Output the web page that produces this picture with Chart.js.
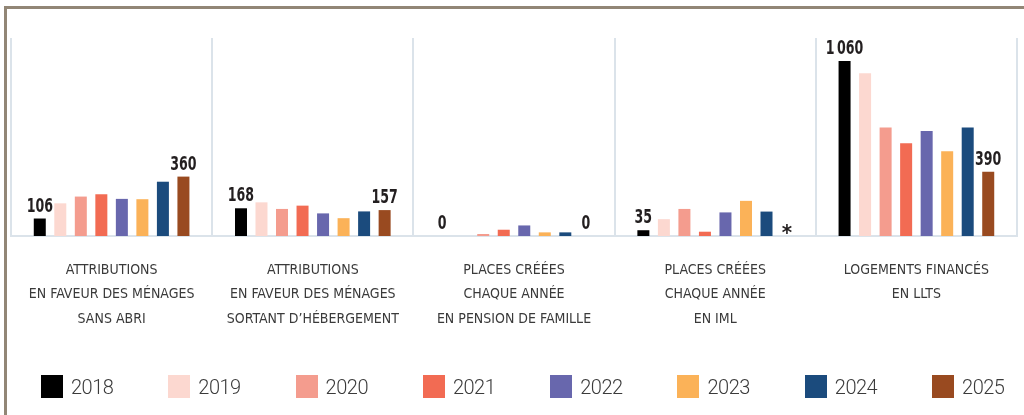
<!DOCTYPE html>
<html lang="fr">
<head>
<meta charset="utf-8">
<title>Logement d'abord</title>
<script src="https://cdn.jsdelivr.net/npm/chart.js@4.4.1/dist/chart.umd.min.js"></script>
<style>
  html, body { margin: 0; padding: 0; background: #fff; }
  #wrap { position: relative; width: 1024px; height: 415px; overflow: hidden; }
  #frame {
    position: absolute; left: 4px; top: 6px; width: 1100px; height: 500px;
    border-top: 3px solid #928676; border-left: 3px solid #928676;
  }
  #chart { position: absolute; left: 0; top: 0; }
  #legend {
    position: absolute; left: 41px; top: 375px; display: flex;
    font-family: Roboto, "Noto Sans", sans-serif; font-weight: 300;
    font-size: 20px; color: #3b3b3b; letter-spacing: -0.5px;
  }
  #legend .item { width: 127.3px; display: flex; align-items: center; height: 23px; }
  #legend .box { width: 22px; height: 23px; margin-right: 8px; }
</style>
</head>
<body>
<div id="wrap">
  <div id="frame"></div>
  <canvas id="chart" width="1024" height="415"></canvas>
  <div id="legend"></div>
</div>
<script>
// categories (one panel each)
const categories = [
    ["ATTRIBUTIONS", "EN FAVEUR DES MÉNAGES", "SANS ABRI"],
    ["ATTRIBUTIONS", "EN FAVEUR DES MÉNAGES", "SORTANT D’HÉBERGEMENT"],
    ["PLACES CRÉÉES", "CHAQUE ANNÉE", "EN PENSION DE FAMILLE"],
    ["PLACES CRÉÉES", "CHAQUE ANNÉE", "EN IML"],
    ["LOGEMENTS FINANCÉS", "EN LLTS"]
];

const years = ["2018", "2019", "2020", "2021", "2022", "2023", "2024", "2025"];

// values per year, one per category (null = not available, shown as *)
const v2018 = [106, 168, 0, 35, 1060];
const v2019 = [198, 204, 0, 102, 987];
const v2020 = [239, 164, 12, 164, 658];
const v2021 = [253, 184, 38, 26, 562];
const v2022 = [225, 137, 64, 143, 636];
const v2023 = [223, 108, 22, 213, 513];
const v2024 = [329, 149, 22, 148, 658];
const v2025 = [360, 157, 0, null, 390];

const yearColors = ["#000000", "#fcd8d0", "#f49c8e", "#f26b53", "#6867ad", "#fbb258", "#1b4b7d", "#994a20"];

const series = [v2018, v2019, v2020, v2021, v2022, v2023, v2024, v2025];

const chartEl = document.getElementById("chart");
const legendEl = document.getElementById("legend");

const condensed = "'Liberation Sans Narrow', 'DejaVu Sans Condensed', sans-serif";

// number format with narrow space for thousands
function fmt(v) {
    if (v === null) return "*";
    return v.toLocaleString("fr-FR").replace(/\s/g, "\u202F");
}

// labels above first and last year of each panel
const endLabels = {
    id: "endLabels",
    afterDatasetsDraw(chart) {
        const ctx = chart.ctx;
        const last = chart.data.datasets.length - 1;
        const zeroY = chart.scales.y.getPixelForValue(0);
        ctx.save();
        ctx.fillStyle = "#231f20";
        ctx.textAlign = "center";
        ctx.textBaseline = "alphabetic";
        [0, last].forEach(di => {
            const meta = chart.getDatasetMeta(di);
            meta.data.forEach((bar, i) => {
                const v = chart.data.datasets[di].data[i];
                ctx.save();
                if (v === null) {
                    ctx.font = "bold 22px " + condensed;
                    ctx.translate(bar.x, zeroY + 4);
                    ctx.fillText("*", 0, 0);
                } else {
                    // squeeze horizontally to mimic the tall condensed face
                    ctx.font = "bold 20px " + condensed;
                    ctx.translate(bar.x, bar.y - 7);
                    ctx.scale(0.7, 1);
                    ctx.fillText(fmt(v), 0, 0);
                }
                ctx.restore();
            });
        });
        ctx.restore();
    }
};

const chart = new Chart(chartEl, {
    type: "bar",
    data: {
        labels: categories,
        datasets: years.map((y, i) => ({
            label: y,
            data: series[i],
            backgroundColor: yearColors[i],
            borderWidth: 0,
            categoryPercentage: 0.816,
            barPercentage: 0.585
        }))
    },
    options: {
        responsive: false,
        animation: false,
        layout: { padding: { top: 38, left: 11, right: 7, bottom: 61.5 } },
        plugins: {
            legend: { display: false },
            tooltip: { enabled: false }
        },
        scales: {
            x: {
                grid: { offset: true, color: "#dbe3ea", lineWidth: 2, drawTicks: false },
                border: { color: "#dbe3ea", width: 2 },
                ticks: {
                    padding: 22,
                    color: "#3a3a3a",
                    maxRotation: 0,
                    autoSkip: false,
                    font: { family: condensed, size: 14, lineHeight: "24.5px" }
                }
            },
            y: { display: false, min: 0, max: 1200 }
        }
    },
    plugins: [endLabels]
});

// HTML legend built from the datasets
chart.data.datasets.forEach(ds => {
    const item = document.createElement("div");
    item.className = "item";
    const box = document.createElement("span");
    box.className = "box";
    box.style.background = ds.backgroundColor;
    const txt = document.createElement("span");
    txt.textContent = ds.label;
    item.appendChild(box);
    item.appendChild(txt);
    legendEl.appendChild(item);
});
</script>
</body>
</html>
